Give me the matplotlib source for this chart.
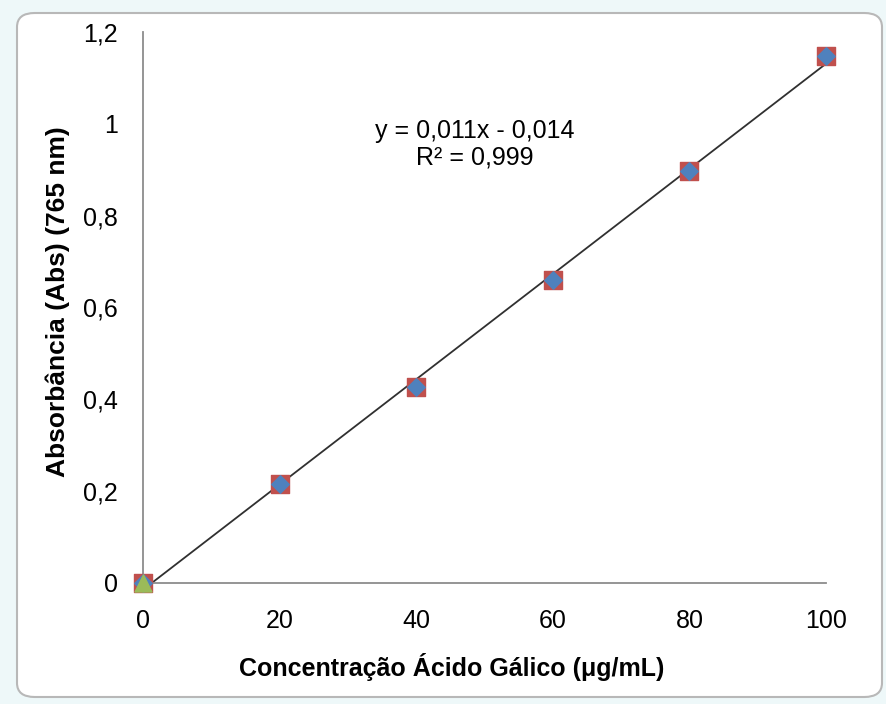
import numpy as np
import matplotlib.pyplot as plt
from matplotlib.patches import FancyBboxPatch

plt.rcParams['font.family'] = ['Liberation Sans', 'DejaVu Sans']

# data
conc = [0, 20, 40, 60, 80, 100]
absorb = [0.0, 0.216, 0.427, 0.660, 0.898, 1.148]
zero_x = [0]
zero_y = [0.0]

x_ticks = [0, 20, 40, 60, 80, 100]
y_ticks = [0, 0.2, 0.4, 0.6, 0.8, 1.0, 1.2]
y_tick_labels = ['0', '0,2', '0,4', '0,6', '0,8', '1', '1,2']

eq_text = 'y = 0,011x - 0,014\nR² = 0,999'

# linear fit for the trendline
slope, intercept = np.polyfit(conc, absorb, 1)
fit_x = np.array([conc[0], conc[-1]])
fit_y = slope * fit_x + intercept

fig = plt.figure(figsize=(8.87, 7.04), dpi=100)
fig.patch.set_facecolor('#eef8f9')

# chart area frame (drawn under the axes)
frame = FancyBboxPatch((17 / 887, 7 / 704), 865 / 887, 684 / 704,
                       boxstyle='round,pad=0,rounding_size=0.02',
                       transform=fig.transFigure, facecolor='white',
                       edgecolor='#b8b8b8', linewidth=1.5, zorder=-10)
fig.patches.append(frame)

ax = fig.add_axes([143 / 887, 1 - 583 / 704, 683 / 887, 551 / 704])
ax.set_facecolor('none')

ax.plot(fit_x, fit_y, color='#303030', lw=1.3, zorder=2)
ax.scatter(conc, absorb, marker='s', s=170, color='#C0504D', zorder=3)
ax.scatter(conc, absorb, marker='D', s=80, color='#4F81BD', zorder=4)
ax.scatter(zero_x, zero_y, marker='^', s=150, color='#9BBB59', zorder=5)

ax.set_xlim(0, 100)
ax.set_ylim(0, 1.2)
ax.set_xticks(x_ticks)
ax.set_yticks(y_ticks)
ax.set_yticklabels(y_tick_labels)
ax.tick_params(length=0, labelsize=18)
ax.tick_params(axis='x', pad=19)
ax.tick_params(axis='y', pad=18)

for side in ['top', 'right']:
    ax.spines[side].set_visible(False)
for side in ['left', 'bottom']:
    ax.spines[side].set_color('#8c8c8c')
    ax.spines[side].set_linewidth(1.3)

for coll in ax.collections:
    coll.set_clip_on(False)

ax.text(48.6, 0.955, eq_text, ha='center', va='center', fontsize=18,
        linespacing=1.15)

ax.set_xlabel('Concentração Ácido Gálico (μg/mL)', fontsize=18,
              fontweight='bold')
ax.set_ylabel('Absorbância (Abs) (765 nm)', fontsize=19,
              fontweight='bold')
ax.xaxis.set_label_coords(452 / 683 - 143 / 683, -70 / 551)
ax.yaxis.set_label_coords(-73 / 683, 281 / 551)

fig.savefig('out.png', dpi=100, facecolor=fig.get_facecolor())
